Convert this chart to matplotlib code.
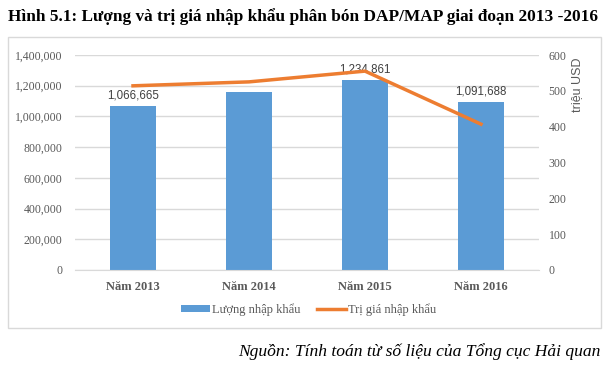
import numpy as np
import matplotlib.pyplot as plt
from matplotlib.patches import Rectangle, Patch
from matplotlib.lines import Line2D
from matplotlib.ticker import FuncFormatter

### data
years = ['Năm 2013', 'Năm 2014', 'Năm 2015', 'Năm 2016']
luong = [1066665, 1160000, 1234861, 1091688]
luong_labels = ['1,066,665', '', '1,234,861', '1,091,688']
tri_gia = [514, 525, 555, 407]

blue = '#5B9BD5'
orange = '#ED7D31'
grey = '#595959'
serif = 'Liberation Serif'

fig = plt.figure(figsize=(6.08, 3.67), dpi=100)
W, H = 608, 367

### outer frame of the chart
fig.patches.append(Rectangle((8 / W, 1 - 328 / H), 593 / W, 291 / H,
                             transform=fig.transFigure, fill=False,
                             edgecolor='#d9d9d9', linewidth=1))

ax = fig.add_axes([75 / W, 1 - 270 / H, 464 / W, 215 / H])
x = np.arange(len(years))
ax.bar(x, luong, width=0.4, color=blue, zorder=2)
ax.set_xlim(-0.5, 3.5)
ax.set_ylim(0, 1400000)
ax.set_yticks(np.arange(0, 1400001, 200000))
ax.yaxis.set_major_formatter(FuncFormatter(lambda v, p: f'{int(v):,}'))
ax.grid(axis='y', color='#d9d9d9', linewidth=1, zorder=0)
for s in ['top', 'right', 'left']:
    ax.spines[s].set_visible(False)
ax.spines['bottom'].set_color('#d9d9d9')
ax.tick_params(length=0, colors=grey)
ax.set_xticks(x)
ax.set_xticklabels(years, fontfamily=serif, fontweight='bold', fontsize=9, color=grey)
for lab in ax.get_yticklabels():
    lab.set_fontfamily(serif)
    lab.set_fontsize(8.5)
ax.tick_params(axis='y', pad=9)
ax.tick_params(axis='x', pad=8)

for i in range(len(years)):
    if luong_labels[i]:
        ax.text(x[i], luong[i] + 30000, luong_labels[i], ha='center', va='bottom',
                fontsize=8.3, color='#404040', fontfamily='Liberation Sans', zorder=4)

ax2 = ax.twinx()
ax2.plot(x, tri_gia, color=orange, linewidth=2.5, zorder=3)
ax2.set_ylim(0, 600)
ax2.set_yticks(np.arange(0, 601, 100))
for s in ax2.spines.values():
    s.set_visible(False)
ax2.tick_params(length=0, colors=grey, pad=7)
for lab in ax2.get_yticklabels():
    lab.set_fontfamily(serif)
    lab.set_fontsize(8.5)

fig.text(577 / W, 1 - 85 / H, 'triệu USD', rotation=90, ha='center', va='center',
         fontsize=9, color=grey, fontfamily='Liberation Sans')

### legend
handles = [Patch(facecolor=blue), Line2D([], [], color=orange, linewidth=2.5)]
fig.legend(handles, ['Lượng nhập khẩu', 'Trị giá nhập khẩu'], loc='center',
           bbox_to_anchor=(309 / W, 1 - 310 / H), ncol=2, frameon=False,
           prop={'family': serif, 'size': 9}, labelcolor=grey,
           handlelength=2.3, handleheight=0.5, handletextpad=0.2, columnspacing=1.3)

fig.text(8 / W, 1 - 17 / H, 'Hình 5.1: Lượng và trị giá nhập khẩu phân bón DAP/MAP giai đoạn 2013 -2016',
         ha='left', va='center', fontsize=12.4, fontweight='bold', fontfamily=serif)
fig.text(600 / W, 1 - 352 / H, 'Nguồn: Tính toán từ số liệu của Tổng cục Hải quan',
         ha='right', va='center', fontsize=12.6, fontstyle='italic', fontfamily=serif)

plt.savefig('out.png', dpi=100)
